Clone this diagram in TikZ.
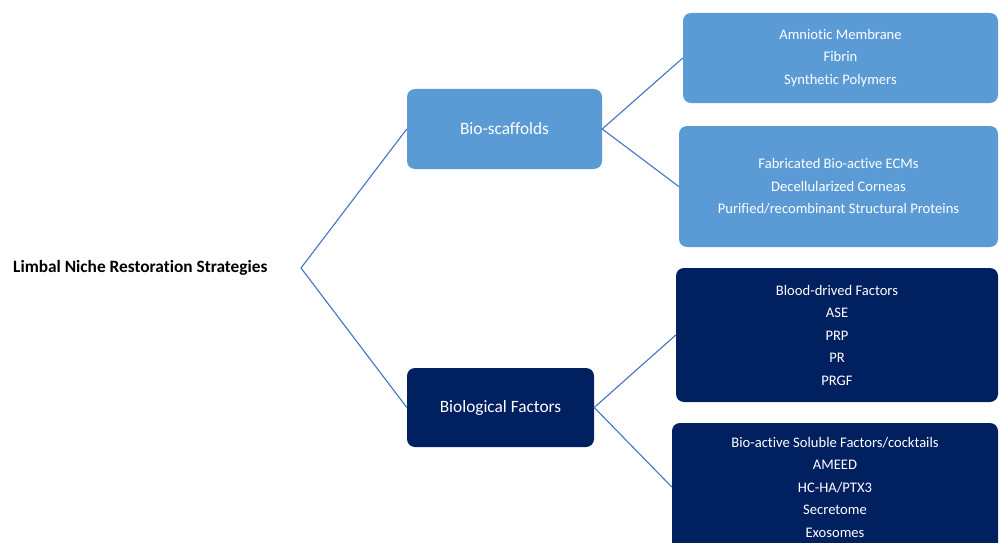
\documentclass[tikz,border=0pt]{standalone}
\usepackage{fontspec}
\setmainfont[Ligatures=NoCommon]{Carlito}
\definecolor{lightbox}{HTML}{5B9BD5}
\definecolor{darkbox}{HTML}{002060}
\definecolor{linkcol}{HTML}{4472C4}
\begin{document}
\begin{tikzpicture}[x=1pt,y=-1pt,
  box/.style={rounded corners=8pt, text=white, align=center, inner sep=0pt, anchor=center},
  light/.style={box, fill=lightbox},
  dark/.style={box, fill=darkbox},
  link/.style={draw=linkcol, line width=1.1pt},
  boxtext/.style={font=\fontsize{14.6}{22.5}\selectfont},
  midtext/.style={font=\fontsize{17.3}{20}\selectfont}]
\clip (0,0) rectangle (999,543);
\useasboundingbox (0,0) rectangle (999,543);
\fill[white] (0,0) rectangle (999,543);

\node[anchor=west, inner sep=0pt, font=\fontsize{17.3}{20}\selectfont\bfseries] (root) at (13,268) {Limbal Niche Restoration Strategies};

\node[light, midtext, minimum width=195pt, minimum height=80pt] (bs) at (504.5,129) {Bio-scaffolds};
\node[dark, midtext, minimum width=187pt, minimum height=79pt] (bf) at (500.5,407.5) {Biological Factors};

\node[light, boxtext, minimum width=315pt, minimum height=90pt] (a) at (840.5,58) {Amniotic Membrane\\Fibrin\\Synthetic Polymers};
\node[light, boxtext, minimum width=319pt, minimum height=121pt] (b) at (838.5,186.5) {Fabricated Bio-active ECMs\\Decellularized Corneas\\Purified/recombinant Structural Proteins};
\node[dark, boxtext, minimum width=322pt, minimum height=134pt] (c) at (837,335) {Blood-drived Factors\\ASE\\PRP\\PR\\PRGF};
\node[dark, boxtext, minimum width=326pt, minimum height=128pt] (d) at (835,487) {Bio-active Soluble Factors/cocktails\\AMEED\\HC-HA/PTX3\\Secretome\\Exosomes};

\coordinate (f0) at (301,268);
\draw[link] (bs.west) -- (f0) -- (bf.west);
\draw[link] (a.west) -- (bs.east) -- (b.west);
\draw[link] (c.west) -- (bf.east) -- (d.west);
\end{tikzpicture}
\end{document}
